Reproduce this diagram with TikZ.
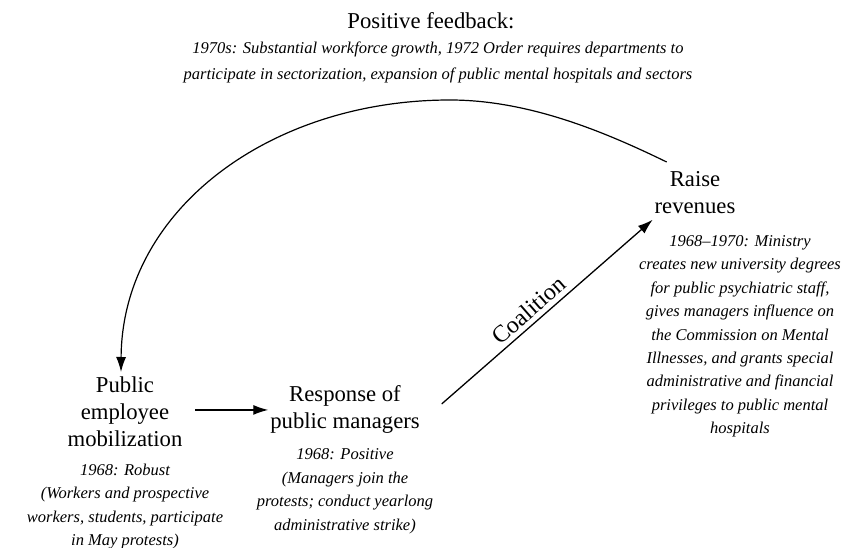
\documentclass[tikz,border=0pt]{standalone}
\usepackage{fontspec}
\setmainfont{Liberation Serif}
\usetikzlibrary{arrows.meta,calc}
\begin{document}
\begin{tikzpicture}[x=1pt,y=-1pt,
  every node/.style={inner sep=0pt, outer sep=0pt},
  head/.style={font=\fontsize{22.7}{27}\selectfont, align=center, anchor=north},
  note/.style={font=\fontsize{16.5}{23.4}\selectfont\itshape, align=center, anchor=north},
  topnote/.style={font=\fontsize{16.5}{26}\selectfont\itshape, align=center, anchor=north},
  arr/.style={line width=1.3pt, -{Latex[length=15pt,width=10pt]}},
  loop/.style={line width=1.2pt, -{Latex[length=15pt,width=10pt]}},
]
\useasboundingbox (0,0) rectangle (844,548);

\node[head] (fbtitle) at (431,12.5) {Positive feedback:};
\node[topnote] (fbnote) at (438,42) {1970s: Substantial workforce growth, 1972 Order requires departments to\\participate in sectorization, expansion of public mental hospitals and sectors};

\node[head] (pub) at (125,376.5) {Public\\employee\\mobilization};
\node[note] (pubnote) at (125,464) {1968: Robust\\(Workers and prospective\\workers, students, participate\\in May protests)};

\node[head] (resp) at (345,386) {Response of\\public managers};
\node[note] (respnote) at (345,449) {1968: Positive\\(Managers join the\\protests; conduct yearlong\\administrative strike)};

\node[head] (raise) at (695,171.5) {Raise\\revenues};
\node[note] (raisenote) at (740,235.5) {1968–1970: Ministry\\creates new university degrees\\for public psychiatric staff,\\gives managers influence on\\the Commission on Mental\\Illnesses, and grants special\\administrative and financial\\privileges to public mental\\hospitals};

\draw[arr] ([xshift=13pt]pub.east |- resp.west) -- ([xshift=-2pt]resp.west);

\draw[arr] ([shift={(22pt,6pt)}]resp.east) -- node[pos=0.455, sloped, above=5pt, font=\fontsize{24}{28}\selectfont] (coal) {Coalition} ([shift={(-2pt,-6pt)}]raise.south west);

\draw[loop] ([shift={(12pt,9.5pt)}]raise.north west)
  .. controls (607,133) and (530,100) .. (450,100)
  .. controls (270,100) and (122,210) .. ([shift={(-4pt,4.5pt)}]pub.north);
\end{tikzpicture}
\end{document}
